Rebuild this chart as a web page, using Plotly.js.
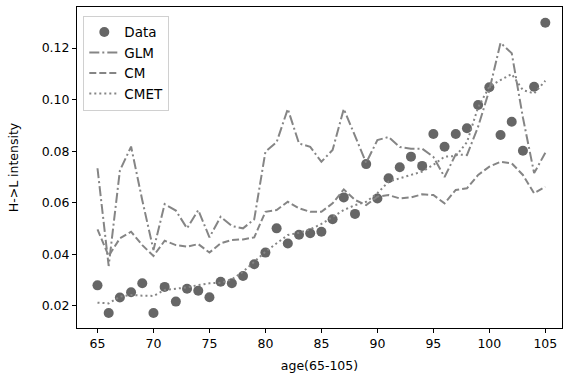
<!DOCTYPE html>
<html>
<head>
<meta charset="utf-8">
<script src="https://cdn.plot.ly/plotly-3.0.1.min.js"></script>
<style>html,body{margin:0;padding:0;background:#fff;}#chart{width:564px;height:380px;}</style>
</head>
<body>
<div id="chart"></div>
<script>
const ages = [65,66,67,68,69,70,71,72,73,74,75,76,77,78,79,80,81,82,83,84,85,86,87,88,89,90,91,92,93,94,95,96,97,98,99,100,101,102,103,104,105];
const dataVals = [0.0280,0.0173,0.0233,0.0253,0.0288,0.0173,0.0274,0.0217,0.0267,0.0259,0.0234,0.0294,0.0288,0.0316,0.0362,0.0407,0.0501,0.0442,0.0476,0.0482,0.0488,0.0536,0.0621,0.0557,0.0750,0.0617,0.0695,0.0738,0.0779,0.0743,0.0867,0.0817,0.0867,0.0889,0.0979,0.1048,0.0863,0.0914,0.0802,0.1050,0.1298];
const glmVals = [0.0734,0.0355,0.0725,0.0818,0.0610,0.0417,0.0595,0.0570,0.0501,0.0572,0.0466,0.0546,0.0510,0.0501,0.0536,0.0798,0.0835,0.0964,0.0830,0.0817,0.0759,0.0805,0.0964,0.0856,0.0755,0.0843,0.0855,0.0816,0.0810,0.0810,0.0778,0.0700,0.0788,0.0785,0.0895,0.1037,0.1220,0.1180,0.0930,0.0715,0.0794];
const cmVals = [0.0497,0.0394,0.0462,0.0488,0.0436,0.0394,0.0453,0.0436,0.0430,0.0440,0.0407,0.0443,0.0456,0.0458,0.0466,0.0565,0.0572,0.0604,0.0579,0.0565,0.0565,0.0598,0.0652,0.0611,0.0591,0.0624,0.0630,0.0617,0.0621,0.0633,0.0630,0.0598,0.0650,0.0656,0.0708,0.0740,0.0759,0.0753,0.0708,0.0637,0.0662];
const cmetVals = [0.0213,0.0210,0.0236,0.0243,0.0240,0.0239,0.0262,0.0268,0.0272,0.0281,0.0288,0.0290,0.0303,0.0333,0.0372,0.0410,0.0443,0.0475,0.0484,0.0497,0.0518,0.0546,0.0572,0.0591,0.0604,0.0637,0.0682,0.0695,0.0708,0.0721,0.0747,0.0779,0.0781,0.0835,0.0970,0.1050,0.1076,0.1099,0.1037,0.1024,0.1073];
const xTicks = [65,70,75,80,85,90,95,100,105];
const yTicks = [0.02,0.04,0.06,0.08,0.10,0.12];
const yTickText = ['0.02','0.04','0.06','0.08','0.10','0.12'];

const lineColor = '#858585';
const traces = [
  {x: ages, y: dataVals, name: 'Data', type: 'scatter', mode: 'markers',
   marker: {color: '#666666', size: 10}},
  {x: ages, y: glmVals, name: 'GLM', type: 'scatter', mode: 'lines',
   line: {color: lineColor, width: 2, dash: '10px,3px,2px,3px'}},
  {x: ages, y: cmVals, name: 'CM', type: 'scatter', mode: 'lines',
   line: {color: lineColor, width: 2, dash: '7px,3px'}},
  {x: ages, y: cmetVals, name: 'CMET', type: 'scatter', mode: 'lines',
   line: {color: lineColor, width: 2, dash: '2px,3px'}}
];
const axisCommon = {
  showline: true, mirror: true, linecolor: '#000', linewidth: 1,
  ticks: 'outside', ticklen: 4, tickcolor: '#000', tickwidth: 1,
  showgrid: false, zeroline: false,
  tickfont: {family: 'DejaVu Sans', size: 12.5, color: '#000'}
};
const layout = {
  width: 564, height: 380,
  margin: {l: 77, r: 2, t: 7, b: 52, pad: 0},
  paper_bgcolor: '#fff', plot_bgcolor: '#fff',
  font: {family: 'DejaVu Sans', size: 12.5, color: '#000'},
  showlegend: true,
  legend: {x: 0.013, y: 0.973, xanchor: 'left', yanchor: 'top',
    bgcolor: 'rgba(255,255,255,0.8)', bordercolor: '#d0d0d0', borderwidth: 1,
    font: {family: 'DejaVu Sans', size: 13.5, color: '#000'}},
  xaxis: Object.assign({}, axisCommon, {
    range: [63.17, 106.49], tickvals: xTicks,
    title: {text: 'age(65-105)', font: {family: 'DejaVu Sans', size: 12.5, color: '#000'}, standoff: 11}
  }),
  yaxis: Object.assign({}, axisCommon, {
    range: [0.01147, 0.1359], tickvals: yTicks, ticktext: yTickText,
    title: {text: 'H->L intensity', font: {family: 'DejaVu Sans', size: 12.5, color: '#000'}, standoff: 20}
  })
};
Plotly.newPlot('chart', traces, layout, {displayModeBar: false, staticPlot: true});
</script>
</body>
</html>
